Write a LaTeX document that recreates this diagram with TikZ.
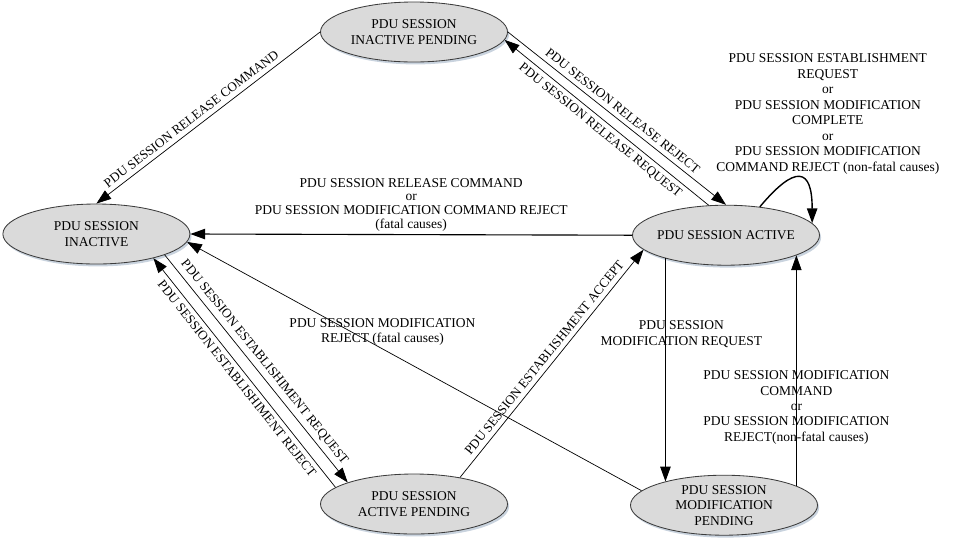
\documentclass[tikz,border=0pt]{standalone}
\usepackage{fontspec}
\setmainfont{Liberation Serif}
\usetikzlibrary{shapes.geometric,arrows.meta,shadows}
\definecolor{statefill}{HTML}{DADADA}
\definecolor{stateline}{HTML}{3C3C3C}
\definecolor{stateshadow}{HTML}{C9D3DE}

\begin{document}
\begin{tikzpicture}
[
state/.style={draw=stateline,line width=0.6pt,fill=statefill,ellipse,
            minimum width=4.675cm,minimum height=1.5cm,inner sep=0pt,inner xsep=-1mm,
            align=center,font=\fontsize{9.6}{11}\selectfont,
            drop shadow={shadow xshift=0.4mm,shadow yshift=-0.6mm,fill=stateshadow,opacity=1}
},
trans/.style={-{Triangle[length=3.7mm,width=2.6mm]},line width=0.5pt},
msg/.style={font=\fontsize{9.6}{11}\selectfont,align=center},
slopedmsg/.style={font=\fontsize{9.3}{11}\selectfont,sloped},
]
\useasboundingbox (0,0) rectangle (24.025cm,-13.525cm);

%Place the nodes
\node[state] (inact) at (2.41cm,-5.85cm) {PDU SESSION\\INACTIVE};
\node[state] (inactpend) at (10.35cm,-0.8cm) {PDU SESSION\\INACTIVE PENDING};
\node[state] (act) at (18.15cm,-5.88cm) {PDU SESSION ACTIVE};
\node[state] (actpend) at (10.35cm,-12.6cm) {PDU SESSION\\ACTIVE PENDING};
\node[state] (modpend) at (18.1cm,-12.63cm) {PDU SESSION\\MODIFICATION\\PENDING};

%Draw the connections
\draw[trans] (inactpend.west) to node[slopedmsg,above,pos=.55] {PDU SESSION RELEASE COMMAND} (inact.north);
\draw[trans] (inactpend.east) to node[slopedmsg,above] {PDU SESSION RELEASE REJECT} (act.north);
\draw[trans] (act.120) to node[slopedmsg,below] {PDU SESSION RELEASE REQUEST} (inactpend.-5);
\draw[trans,line width=0.8pt] (act.west) to node[msg,above,yshift=-0.5mm,font=\fontsize{9.6}{9.8}\selectfont]
            {PDU SESSION RELEASE COMMAND\\or\\PDU SESSION MODIFICATION COMMAND REJECT\\(fatal causes)} (inact.east);
\draw[trans,line width=1pt] (act.40) to[out=50,in=90,looseness=2.6]
            node[msg,above,xshift=7.1mm,yshift=-0.3mm] {PDU SESSION ESTABLISHMENT\\REQUEST\\or\\PDU SESSION MODIFICATION\\COMPLETE\\or\\PDU SESSION MODIFICATION\\COMMAND REJECT (non-fatal causes)} (act.8);
\draw[trans] (inact.-17) to node[slopedmsg,above] {PDU SESSION ESTABLISHIMENT REQUEST} (actpend.162);
\draw[trans] (actpend.168) to node[slopedmsg,below] {PDU SESSION ESTABLISHIMENT REJECT} (inact.-23);
\draw[trans] (actpend.30) to node[slopedmsg,above] {PDU SESSION ESTABLISHMENT ACCEPT} (act.190);
\draw[trans] (modpend.170) to node[msg,pos=.57,yshift=4.2mm] {PDU SESSION MODIFICATION\\REJECT (fatal causes)} (inact.-5);
\draw[trans,line width=0.8pt] (act.201) to node[msg,pos=.34,xshift=4mm] {PDU SESSION\\MODIFICATION REQUEST} (act.201 |- modpend.158);
\draw[trans] (modpend.15) to node[msg,pos=.34] {PDU SESSION MODIFICATION\\COMMAND\\or\\PDU SESSION MODIFICATION\\REJECT(non-fatal causes)} (modpend.15 |- act.-16);
\end{tikzpicture}
\end{document}
